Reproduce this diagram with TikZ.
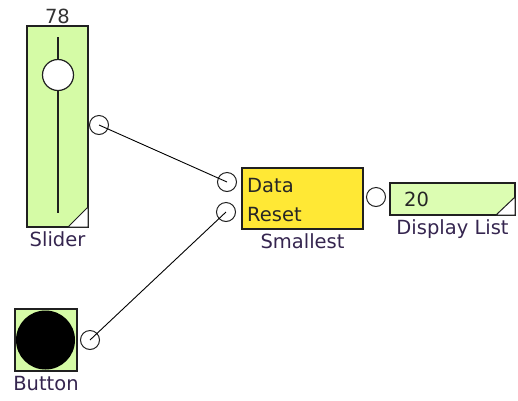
\documentclass[tikz,border=0pt]{standalone}
\usepackage{fontspec}
\setmainfont{DejaVu Sans}
\usetikzlibrary{positioning}
\definecolor{bgreen}{HTML}{D5FBA6}
\definecolor{bgreenlt}{HTML}{DCFDB2}
\definecolor{byellow}{HTML}{FFE835}
\definecolor{blabel}{HTML}{35254F}
\definecolor{bedge}{HTML}{202020}
\tikzset{
  block/.style={draw=bedge, line width=1.4pt, inner sep=0pt},
  port/.style={circle, draw=bedge, line width=1pt, minimum size=19pt, inner sep=0pt},
  lbl/.style={text=blabel, inner sep=1pt},
  wire/.style={line width=0.9pt, black}
}
\begin{document}
\begin{tikzpicture}[x=1pt, y=-1pt, font=\fontsize{19.5}{21}\selectfont]
\useasboundingbox (0,0) rectangle (518,400);
% ---- slider ----
\node[block, fill=bgreen, minimum width=61pt, minimum height=201pt] (slider) at (57.5,126.5) {};
\draw[line width=1.4pt, bedge] (58,37) -- (58,213);
\draw[line width=1.2pt, bedge, fill=white] (58,75) circle (15.5);
\draw[line width=1pt, bedge, fill=white] (68,227) -- (88,227) -- (88,207) -- cycle;
\node[lbl, text=black!80, above=0pt of slider] (sliderval) {78};
\node[lbl, below=3pt of slider] (sliderlbl) {Slider};
\node[port] (sliderout) at (99,125) {};
% ---- button ----
\node[block, fill=bgreen, minimum width=62pt, minimum height=62pt] (button) at (46,340) {};
\fill[black] (45.5,340) circle (29.5);
\node[lbl, below=3pt of button] (buttonlbl) {Button};
\node[port] (buttonout) at (90,340) {};
% ---- smallest ----
\node[block, fill=byellow, minimum width=121pt, minimum height=61pt] (smallest) at (302.5,198.5) {};
\node[lbl, text=black!85, anchor=west] (datalbl) at (246,186) {Data};
\node[lbl, text=black!85, anchor=west] (resetlbl) at (246,215) {Reset};
\node[lbl, below=3pt of smallest] (smallestlbl) {Smallest};
\node[port] (datain) at (227,182) {};
\node[port] (resetin) at (226,212) {};
\node[port] (smallestout) at (376,197) {};
% ---- display list ----
\node[block, fill=bgreenlt, minimum width=125pt, minimum height=32pt] (display) at (452.5,199) {};
\draw[line width=1pt, bedge, fill=white] (496,215) -- (515,215) -- (515,197) -- cycle;
\node[lbl, text=black!85, anchor=west] (displayval) at (403,199) {20};
\node[lbl, below=3pt of display] (displaylbl) {Display List};
% ---- wires ----
\draw[wire] (sliderout.center) -- (datain.center);
\draw[wire] (buttonout.center) -- (resetin.center);
\end{tikzpicture}
\end{document}
